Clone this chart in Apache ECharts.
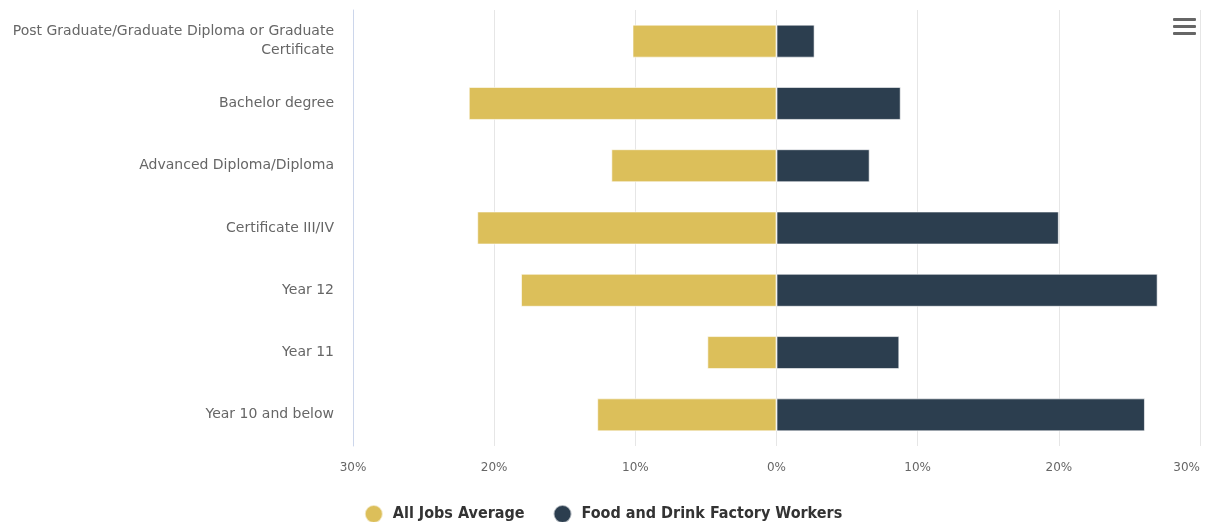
<!DOCTYPE html>
<html>
<head>
<meta charset="utf-8">
<style>
  html, body { margin: 0; padding: 0; background: #fff; }
  #chart { width: 1206px; height: 522px; }
</style>
<script src="https://cdn.jsdelivr.net/npm/echarts@6/dist/echarts.min.js"></script>
</head>
<body>
<div id="chart"></div>
<script>
// Highest level of schooling, share of workers (%)
const categories = [
  'Post Graduate/Graduate Diploma or Graduate Certificate',
  'Bachelor degree',
  'Advanced Diploma/Diploma',
  'Certificate III/IV',
  'Year 12',
  'Year 11',
  'Year 10 and below'
];
const allJobsAverage = [10.2, 21.8, 11.7, 21.2, 18.1, 4.9, 12.7];
const foodDrinkWorkers = [2.7, 8.8, 6.6, 20.0, 27.0, 8.7, 26.1];
const xTicks = [-30, -20, -10, 0, 10, 20, 30];

const chart = echarts.init(document.getElementById('chart'), null, { renderer: 'canvas' });

const labelFont = 'DejaVu Sans, sans-serif';

chart.setOption({
  animation: false,
  backgroundColor: '#ffffff',
  grid: {
    left: 353, right: 6, top: 10, bottom: 76,
    containLabel: false,
    outerBoundsMode: 'none'
  },
  legend: {
    top: 499,
    left: 'center',
    icon: 'circle',
    itemWidth: 18,
    itemHeight: 18,
    itemGap: 28,
    textStyle: {
      fontFamily: 'DejaVu Sans Condensed, DejaVu Sans, sans-serif',
      fontWeight: 'bold',
      fontSize: 16,
      color: '#333333',
      padding: [0, 0, 0, 5]
    },
    data: ['All Jobs Average', 'Food and Drink Factory Workers']
  },
  xAxis: {
    type: 'value',
    min: xTicks[0],
    max: xTicks[xTicks.length - 1],
    interval: 10,
    axisLine: { show: false },
    axisTick: { show: false },
    splitLine: { show: true, lineStyle: { color: '#e6e6e6', width: 1 } },
    axisLabel: {
      margin: 16,
      color: '#666666',
      fontFamily: labelFont,
      fontSize: 12,
      alignMaxLabel: 'right',
      formatter: v => Math.abs(v) + '%'
    }
  },
  yAxis: {
    type: 'category',
    inverse: true,
    data: categories,
    axisLine: { show: true, onZero: false, lineStyle: { color: '#ccd6eb', width: 1 } },
    axisTick: { show: false },
    axisLabel: {
      margin: 19,
      color: '#666666',
      fontFamily: labelFont,
      fontSize: 14,
      lineHeight: 19,
      formatter: v => v.replace(' Graduate Certificate', ' Graduate\nCertificate')
    }
  },
  series: [
    {
      name: 'All Jobs Average',
      type: 'bar',
      stack: 'share',
      barWidth: '53%',
      itemStyle: { color: '#dcbf5a', borderColor: 'rgba(255,255,255,0.6)', borderWidth: 1 },
      // drawn to the left of zero
      data: allJobsAverage.map(v => -v)
    },
    {
      name: 'Food and Drink Factory Workers',
      type: 'bar',
      stack: 'share',
      barWidth: '53%',
      itemStyle: { color: '#2c3e4f', borderColor: 'rgba(255,255,255,0.6)', borderWidth: 1 },
      data: foodDrinkWorkers
    }
  ],
  graphic: [
    { type: 'rect', left: 1173, top: 18, shape: { width: 23, height: 3, r: 1 }, style: { fill: '#666666' } },
    { type: 'rect', left: 1173, top: 25, shape: { width: 23, height: 3, r: 1 }, style: { fill: '#666666' } },
    { type: 'rect', left: 1173, top: 32, shape: { width: 23, height: 3, r: 1 }, style: { fill: '#666666' } }
  ]
});
</script>
</body>
</html>
